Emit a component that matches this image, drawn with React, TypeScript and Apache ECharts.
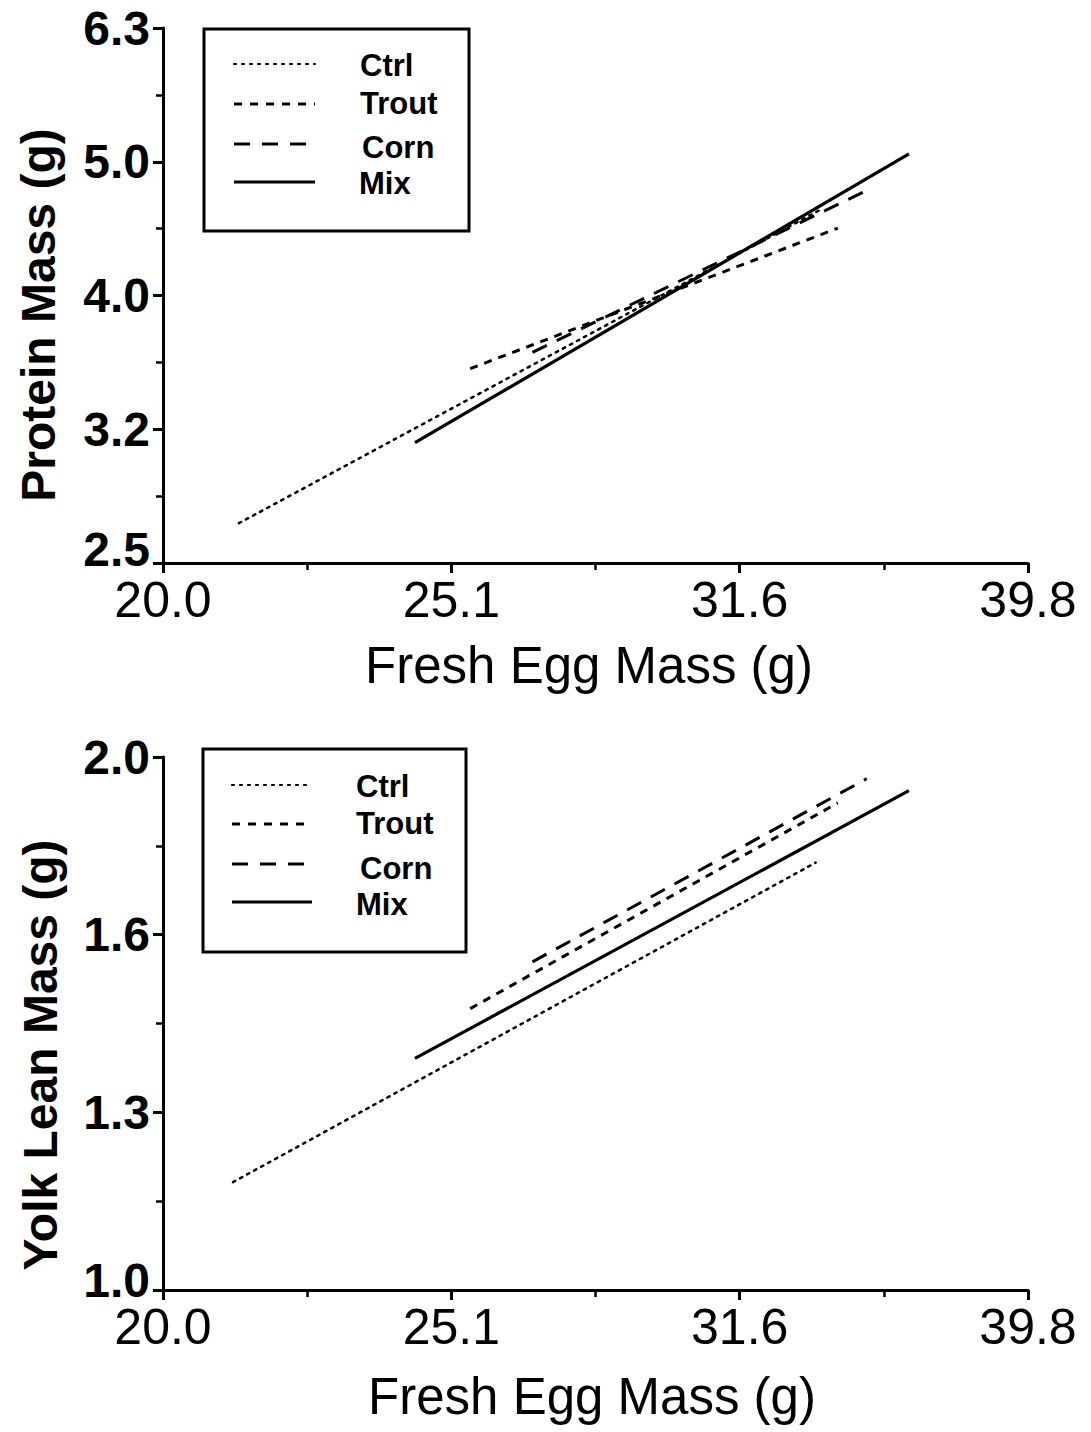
import React, { useEffect, useRef } from "react";
import * as echarts from "echarts";

// Series names (legend order)
const seriesNames = ["Ctrl", "Trout", "Corn", "Mix"];

// Top panel: protein mass (g) vs fresh egg mass (g), fitted line endpoints
const ctrlProteinX = [21.2, 33.7];
const ctrlProteinY = [2.69, 4.61];
const troutProteinX = [25.5, 34.2];
const troutProteinY = [3.51, 4.47];
const cornProteinX = [26.8, 35.0];
const cornProteinY = [3.61, 4.77];
const mixProteinX = [24.4, 36.2];
const mixProteinY = [3.09, 5.08];

// Bottom panel: yolk lean mass (g) vs fresh egg mass (g)
const ctrlYolkX = [21.1, 33.6];
const ctrlYolkY = [1.15, 1.74];
const troutYolkX = [25.5, 34.2];
const troutYolkY = [1.44, 1.88];
const cornYolkX = [26.8, 35.0];
const cornYolkY = [1.53, 1.94];
const mixYolkX = [24.4, 36.2];
const mixYolkY = [1.35, 1.91];

// Axis ranges in log10 units (tick labels are 10^v)
const xLogRange = [1.3, 1.6];
const proteinLogRange = [0.4, 0.8];
const yolkLogRange = [0.0, 0.3];

const FONT = "Liberation Sans, Arial, Helvetica, sans-serif";

const lg = (v: number) => Math.log10(v);
const pts = (xs: number[], ys: number[]) => xs.map((x, i) => [lg(x), lg(ys[i])]);

const dashes: Record<string, any> = {
  Ctrl: { type: [2.5, 5.5], width: 2.5, cap: "round" },
  Trout: { type: [8, 7], width: 3, cap: "butt" },
  Corn: { type: [16, 11], width: 3, cap: "butt" },
  Mix: { type: "solid", width: 3.2, cap: "butt" },
};

const legendDash: Record<string, any> = {
  Ctrl: { lineDash: [2, 6], lineWidth: 2.2, lineCap: "round" },
  Trout: { lineDash: [8, 8], lineWidth: 3 },
  Corn: { lineDash: [16, 12], lineWidth: 3 },
  Mix: { lineDash: null, lineWidth: 3 },
};

const fmt = (v: number) => Math.pow(10, v).toFixed(1);

function xAxisFor(gridIndex: number) {
  return {
    type: "value",
    gridIndex,
    min: xLogRange[0],
    max: xLogRange[1],
    interval: 0.1,
    axisLine: { show: true, onZero: false, lineStyle: { color: "#000", width: 3 } },
    axisTick: { show: true, inside: false, length: 10, lineStyle: { color: "#000", width: 3 } },
    minorTick: { show: true, splitNumber: 2, length: 7, lineStyle: { color: "#000", width: 2.5 } },
    splitLine: { show: false },
    minorSplitLine: { show: false },
    axisLabel: {
      formatter: fmt,
      fontSize: 50,
      color: "#000",
      fontFamily: FONT,
      margin: 12,
      showMinLabel: true,
      showMaxLabel: true,
    },
  };
}

function yAxisFor(gridIndex: number, range: number[], lift: number) {
  const base = { fontSize: 48, fontWeight: "bold", color: "#000", fontFamily: FONT };
  return {
    type: "value",
    gridIndex,
    min: range[0],
    max: range[1],
    interval: 0.1,
    axisLine: { show: true, onZero: false, lineStyle: { color: "#000", width: 3 } },
    axisTick: { show: true, inside: false, length: 10, lineStyle: { color: "#000", width: 3 } },
    minorTick: { show: true, splitNumber: 2, length: 7, lineStyle: { color: "#000", width: 2.5 } },
    splitLine: { show: false },
    minorSplitLine: { show: false },
    axisLabel: {
      formatter: (v: number) => (Math.abs(v - range[0]) < 1e-6 ? `{lo|${fmt(v)}}` : fmt(v)),
      ...base,
      rich: { lo: { ...base, padding: [0, 0, lift, 0] } },
      margin: 13,
      showMinLabel: true,
      showMaxLabel: true,
    },
  };
}

function lineSeries(name: string, xs: number[], ys: number[], idx: number) {
  const d = dashes[name];
  return {
    type: "line",
    name,
    xAxisIndex: idx,
    yAxisIndex: idx,
    data: pts(xs, ys),
    symbol: "none",
    showSymbol: false,
    silent: true,
    lineStyle: { color: "#000", width: d.width, type: d.type, cap: d.cap },
    z: 3,
  };
}

function legendBox(left: number, top: number, w: number, h: number, lineYs: number[], textYs: number[], lineX0: number, lineX1: number, textXs: number[]) {
  const children: any[] = [
    {
      type: "rect",
      shape: { x: left, y: top, width: w, height: h },
      style: { fill: "#fff", stroke: "#000", lineWidth: 3 },
    },
  ];
  seriesNames.forEach((name, i) => {
    const ld = legendDash[name];
    children.push({
      type: "line",
      shape: { x1: lineX0, y1: lineYs[i], x2: lineX1, y2: lineYs[i] },
      style: { stroke: "#000", lineWidth: ld.lineWidth, lineDash: ld.lineDash, lineCap: ld.lineCap || "butt" },
    });
    children.push({
      type: "text",
      x: textXs[i],
      y: textYs[i],
      style: {
        text: name,
        fill: "#000",
        fontSize: 31,
        fontWeight: "bold",
        fontFamily: FONT,
        align: "left",
        verticalAlign: "middle",
      },
    });
  });
  return { type: "group", children, z: 10 };
}

function titleText(text: string, x: number, y: number, rotate: boolean, bold: boolean, size: number) {
  return {
    type: "text",
    x,
    y,
    rotation: rotate ? Math.PI / 2 : 0,
    style: {
      text,
      fill: "#000",
      fontSize: size,
      fontWeight: bold ? "bold" : "normal",
      fontFamily: FONT,
      align: "center",
      verticalAlign: "middle",
    },
  };
}

export default function App() {
  const ref = useRef<HTMLDivElement>(null);

  useEffect(() => {
    document.body.style.margin = "0";
    if (!ref.current) return;
    const chart = echarts.init(ref.current, null, { renderer: "svg" });
    const option: any = {
      animation: false,
      backgroundColor: "#fff",
      grid: [
        { left: 163, top: 28, width: 865, height: 535 },
        { left: 163, top: 757, width: 865, height: 533 },
      ],
      xAxis: [xAxisFor(0), xAxisFor(1)],
      yAxis: [yAxisFor(0, proteinLogRange, 28), yAxisFor(1, yolkLogRange, 20)],
      series: [
        lineSeries("Ctrl", ctrlProteinX, ctrlProteinY, 0),
        lineSeries("Trout", troutProteinX, troutProteinY, 0),
        lineSeries("Corn", cornProteinX, cornProteinY, 0),
        lineSeries("Mix", mixProteinX, mixProteinY, 0),
        lineSeries("Ctrl", ctrlYolkX, ctrlYolkY, 1),
        lineSeries("Trout", troutYolkX, troutYolkY, 1),
        lineSeries("Corn", cornYolkX, cornYolkY, 1),
        lineSeries("Mix", mixYolkX, mixYolkY, 1),
      ],
      graphic: [
        legendBox(204, 29, 265, 202, [64, 104, 144, 182], [65, 103, 147, 183], 234, 315, [360, 360, 362, 359]),
        legendBox(203, 749, 263, 203, [785, 824, 864, 902], [786, 823, 868, 904], 232, 312, [356, 356, 360, 356]),
        titleText("Protein Mass (g)", 38, 315, true, true, 48),
        titleText("Yolk Lean Mass (g)", 40, 1055, true, true, 48),
        titleText("Fresh Egg Mass (g)", 589, 665, false, false, 51),
        titleText("Fresh Egg Mass (g)", 592, 1396, false, false, 51),
      ],
    };
    chart.setOption(option);
    return () => chart.dispose();
  }, []);

  return <div ref={ref} style={{ width: 1091, height: 1432 }} />;
}
